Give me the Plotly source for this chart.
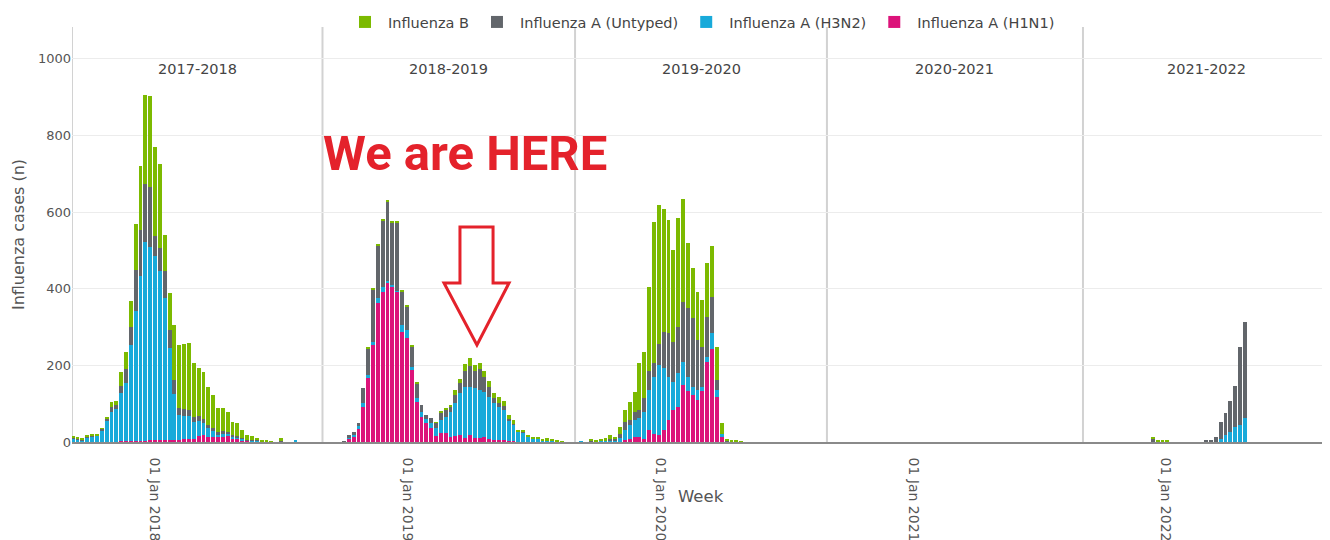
import pandas as pd
import plotly.graph_objects as go

# ---------------- data (weekly counts) ----------------
season_labels = ["2017-2018", "2018-2019", "2019-2020", "2020-2021", "2021-2022"]
season_starts = ["2017-09-03", "2018-08-31", "2019-08-31", "2020-08-29", "2021-09-03"]
season_end = "2022-08-26"
year_ticks = ["2018-01-01", "2019-01-01", "2020-01-01", "2021-01-01", "2022-01-01"]
year_ticktext = ["01 Jan 2018", "01 Jan 2019", "01 Jan 2020", "01 Jan 2021", "01 Jan 2022"]

# 2017-2018, first week 2017-09-04
start_1718 = "2017-09-04"
h1n1_1718 = [0, 0, 0, 0, 0, 0, 1, 1, 1, 1, 2, 2, 3, 3, 3, 3, 5, 5, 5, 6, 6, 6, 6, 7, 8, 8,
             15, 17, 14, 12, 12, 14, 15, 10, 8, 5, 3, 2, 2, 1, 1, 0, 0, 0, 0, 0, 0]
h3n2_1718 = [10, 6, 5, 12, 14, 16, 30, 55, 78, 84, 125, 153, 249, 340, 431, 520, 505, 480, 440,
             370, 240, 120, 65, 62, 60, 45, 40, 32, 22, 18, 8, 8, 6, 4, 4, 3, 2, 2, 1, 1, 0,
             0, 0, 0, 0, 0, 4]
untyped_1718 = [1, 2, 1, 2, 2, 2, 3, 5, 13, 11, 20, 35, 49, 107, 120, 150, 155, 52, 60, 70, 45,
                35, 18, 18, 16, 13, 13, 12, 8, 6, 5, 6, 5, 4, 4, 2, 1, 1, 1, 0, 0, 0, 0, 2, 0,
                0, 0]
fluB_1718 = [3, 5, 2, 2, 3, 3, 2, 3, 12, 12, 36, 46, 68, 119, 165, 233, 238, 234, 220, 94, 97,
             144, 164, 168, 174, 141, 124, 121, 100, 87, 65, 60, 53, 35, 33, 21, 12, 11, 6, 3,
             2, 1, 0, 9, 0, 0, 0]

# 2018-2019, first week 2018-09-03
start_1819 = "2018-09-03"
h1n1_1819 = [0, 0, 0, 0, 1, 10, 15, 36, 92, 166, 253, 362, 392, 414, 405, 392, 288, 271, 188,
             105, 65, 50, 36, 15, 23, 23, 12, 15, 18, 10, 18, 10, 10, 12, 8, 6, 5, 5, 3, 2, 1,
             1, 0, 0, 0, 0, 0, 0, 0, 0]
h3n2_1819 = [0, 0, 0, 0, 0, 3, 3, 5, 9, 9, 9, 13, 13, 7, 6, 3, 17, 21, 9, 9, 13, 10, 14, 22,
             34, 43, 65, 86, 109, 134, 126, 130, 127, 118, 110, 95, 87, 79, 54, 43, 26, 25, 14,
             9, 8, 5, 5, 3, 2, 0]
untyped_1819 = [0, 0, 0, 0, 1, 5, 9, 8, 41, 70, 135, 138, 173, 207, 161, 177, 87, 62, 52, 38,
                19, 10, 12, 13, 20, 18, 16, 22, 26, 40, 55, 44, 53, 40, 25, 13, 9, 10, 3, 2, 1,
                1, 1, 0, 0, 0, 0, 0, 0, 0]
fluB_1819 = [0, 0, 0, 0, 0, 0, 0, 0, 0, 1, 3, 3, 3, 4, 3, 3, 5, 4, 4, 3, 0, 0, 0, 2, 2, 4, 4,
             13, 11, 20, 19, 17, 17, 14, 17, 13, 17, 14, 10, 10, 3, 3, 3, 3, 3, 4, 5, 4, 3, 2]

# 2019-2020, first week 2019-09-02
start_1920 = "2019-09-02"
h1n1_1920 = [0, 0, 0, 0, 0, 0, 0, 0, 0, 0, 6, 9, 14, 14, 9, 31, 22, 18, 31, 57, 84, 92, 149,
             132, 123, 110, 132, 210, 244, 118, 14, 0, 0, 0, 0]
h3n2_1920 = [0, 2, 0, 0, 1, 3, 3, 5, 5, 10, 25, 35, 43, 48, 70, 104, 148, 183, 161, 113, 73,
             87, 61, 38, 21, 25, 12, 13, 40, 18, 8, 0, 0, 0, 0]
untyped_1920 = [0, 0, 0, 2, 0, 0, 2, 3, 2, 12, 22, 13, 22, 22, 35, 49, 35, 56, 96, 114, 105,
                122, 156, 179, 179, 131, 105, 104, 95, 26, 0, 3, 2, 0, 0]
fluB_1920 = [0, 0, 0, 6, 4, 5, 5, 10, 6, 16, 31, 48, 52, 123, 122, 221, 370, 362, 319, 296,
             239, 283, 268, 171, 130, 126, 122, 141, 133, 87, 28, 4, 3, 4, 2]

# 2021-2022, first week 2021-12-13
start_2122 = "2021-12-13"
h1n1_2122 = [0, 0, 0, 0, 0, 0, 0, 0, 0, 0, 0, 0, 0, 0, 0, 0, 0, 0, 0, 0]
h3n2_2122 = [0, 0, 0, 0, 0, 0, 0, 0, 0, 0, 0, 0, 0, 1, 9, 18, 27, 40, 44, 62]
untyped_2122 = [10, 1, 1, 1, 0, 0, 0, 0, 0, 0, 0, 3, 4, 11, 42, 57, 81, 106, 203, 252]
fluB_2122 = [1, 3, 2, 2, 0, 0, 0, 0, 0, 0, 0, 0, 0, 0, 0, 0, 0, 0, 0, 0]

series_names = ["Influenza A (H1N1)", "Influenza A (H3N2)", "Influenza A (Untyped)", "Influenza B"]
series_colors = ["#DC137A", "#18AADA", "#62666B", "#7CBA00"]

# ---------------- assemble ----------------
seasons = [
    (start_1718, [h1n1_1718, h3n2_1718, untyped_1718, fluB_1718]),
    (start_1819, [h1n1_1819, h3n2_1819, untyped_1819, fluB_1819]),
    (start_1920, [h1n1_1920, h3n2_1920, untyped_1920, fluB_1920]),
    (start_2122, [h1n1_2122, h3n2_2122, untyped_2122, fluB_2122]),
]
dates = []
values = [[], [], [], []]
for start, arrs in seasons:
    n = len(arrs[0])
    dates += list(pd.date_range(start, periods=n, freq="7D"))
    for i in range(4):
        values[i] += arrs[i]

fig = go.Figure()
for i in range(4):
    fig.add_trace(go.Bar(
        x=dates, y=values[i], name=series_names[i],
        marker=dict(color=series_colors[i], line=dict(width=0)),
    ))

# season separator lines
for s in season_starts:
    fig.add_shape(type="line", xref="x", yref="paper", x0=s, x1=s, y0=0, y1=1,
                  line=dict(color="#d2d2d2", width=2), layer="below")

# season labels, centred in each season block
bounds = [pd.Timestamp(s) for s in season_starts] + [pd.Timestamp(season_end)]
for i, lab in enumerate(season_labels):
    mid = bounds[i] + (bounds[i + 1] - bounds[i]) / 2
    fig.add_annotation(x=mid, y=0.899, xref="x", yref="paper", text=lab, showarrow=False,
                       xanchor="center", yanchor="middle",
                       font=dict(size=14.5, color="#444", family="DejaVu Sans"))

# "We are HERE" + outlined arrow
fig.add_annotation(x=0.3124, y=0.695, xref="paper", yref="paper", text="<b>We are HERE</b>",
                   showarrow=False, xanchor="center", yanchor="middle",
                   font=dict(size=49, color="#E4222B", family="Roboto"))
arrow_path = ("M 0.3084 0.5181 L 0.3347 0.5181 L 0.3347 0.3831 L 0.3474 0.3831 "
              "L 0.3219 0.2337 L 0.2957 0.3831 L 0.3084 0.3831 Z")
fig.add_shape(type="path", xref="paper", yref="paper", path=arrow_path,
              line=dict(color="#E4222B", width=3), fillcolor="rgba(0,0,0,0)")

fig.add_annotation(x=0.5, y=-0.1325, xref="paper", yref="paper", text="Week", showarrow=False,
                   xanchor="center", yanchor="middle",
                   font=dict(size=16.5, color="#555", family="DejaVu Sans"))

# page body has an 8px default margin, so the figure is offset by 8px
fig.update_layout(
    width=1322, height=532,
    margin=dict(l=64, r=0, t=19, b=98, autoexpand=False),
    barmode="stack", bargap=0.2,
    plot_bgcolor="white", paper_bgcolor="white",
    font=dict(family="DejaVu Sans", color="#555"),
    legend=dict(orientation="h", x=0.5, xanchor="center", y=1.012, yanchor="middle",
                traceorder="reversed", font=dict(size=14.5, color="#444"),
                itemwidth=36, bgcolor="rgba(255,255,255,0)"),
    xaxis=dict(type="date", range=[season_starts[0], season_end], automargin=False,
               tickvals=year_ticks, ticktext=year_ticktext, tickangle=90,
               ticklabelstandoff=11,
               showgrid=False, showline=True, linecolor="#8a8a8a", linewidth=1.5,
               ticks="", tickfont=dict(size=14, color="#555")),
    yaxis=dict(range=[0, 1083], tickvals=[0, 200, 400, 600, 800, 1000], automargin=False,
               showgrid=True, gridcolor="#ececec", zeroline=False, showline=False,
               ticks="", tickfont=dict(size=13, color="#555"),
               title=dict(text="Influenza cases (n)", font=dict(size=16, color="#555"),
                          standoff=9)),
)

fig.write_html("out.html")
